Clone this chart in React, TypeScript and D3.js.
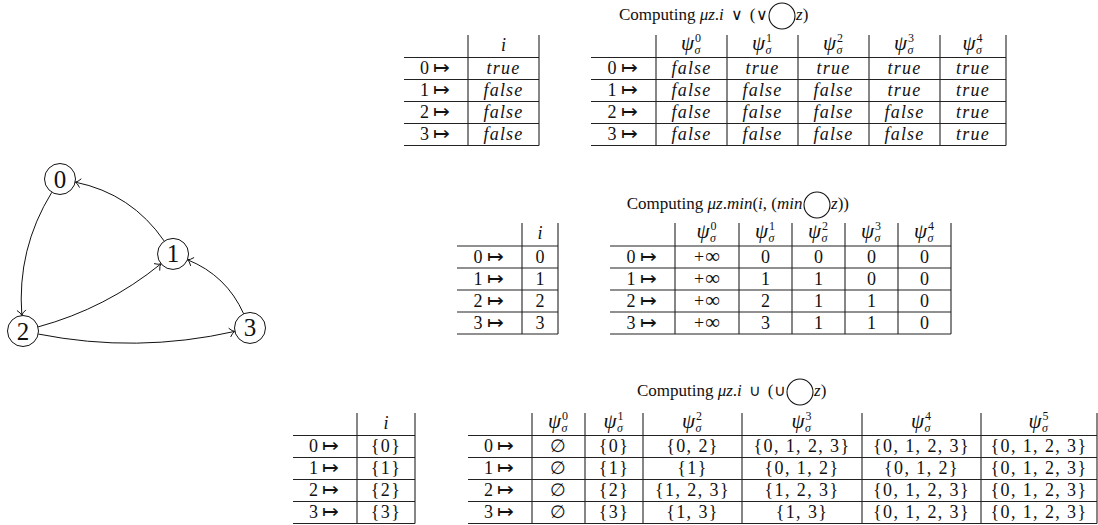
import * as d3 from 'd3';

const FONT = '"Liberation Serif", "Times New Roman", serif';
const INK = '#111';

// states of the transition system and its edges (source -> target)
const states = [0, 1, 2, 3];
const edges: [number, number][] = [[1, 0], [0, 2], [2, 1], [2, 3], [3, 1]];

// mu z. i \/ (\/ next z)
const boolInit = ['true', 'false', 'false', 'false'];
const boolSteps = [
  ['false', 'false', 'false', 'false'],
  ['true', 'false', 'false', 'false'],
  ['true', 'false', 'false', 'false'],
  ['true', 'true', 'false', 'false'],
  ['true', 'true', 'true', 'true'],
];

// mu z. min(i, (min next z))
const minInit = ['0', '1', '2', '3'];
const minSteps = [
  ['+∞', '+∞', '+∞', '+∞'],
  ['0', '1', '2', '3'],
  ['0', '1', '1', '1'],
  ['0', '0', '1', '1'],
  ['0', '0', '0', '0'],
];

// mu z. i U (U next z)
const setInit = [[0], [1], [2], [3]];
const setSteps = [
  [[], [], [], []],
  [[0], [1], [2], [3]],
  [[0, 2], [1], [1, 2, 3], [1, 3]],
  [[0, 1, 2, 3], [0, 1, 2], [1, 2, 3], [1, 3]],
  [[0, 1, 2, 3], [0, 1, 2], [0, 1, 2, 3], [0, 1, 2, 3]],
  [[0, 1, 2, 3], [0, 1, 2, 3], [0, 1, 2, 3], [0, 1, 2, 3]],
];

// title pieces: text, italic, font size, dx
type Piece = [string, boolean, number?, number?];
const titleBool: [Piece[], Piece[]] = [
  [['Computing ', false], ['μz', true], ['.', false], ['i', true], ['∨', false, 16, 7], ['(', false, 17, 7], ['∨', false, 16]],
  [['z', true], [')', false]],
];
const titleMin: [Piece[], Piece[]] = [
  [['Computing ', false], ['μz', true], ['.', false], ['min', true], ['(', false], ['i', true], [', (', false], ['min', true]],
  [['z', true], ['))', false]],
];
const titleSet: [Piece[], Piece[]] = [
  [['Computing ', false], ['μz', true], ['.', false], ['i', true], ['∪', false, 16, 7], ['(', false, 17, 7], ['∪', false, 16]],
  [['z', true], [')', false]],
];

const fmtSet = (s: number[]) => (s.length ? `{${s.join(', ')}}` : '∅');

// ---- layout ----
const nodeX = d3.scaleLinear().domain([0, 1]).range([23, 250]);
const nodeY = d3.scaleLinear().domain([0, 1]).range([179, 331]);
const nodeLayout = [[0.163, 0], [0.661, 0.493], [0, 1], [1, 0.98]];
const edgeBend = [22, 18, 12, 12, 22];
const R = 15.5;

const Graph = () => {
  const pts = nodeLayout.map(([u, v]) => [nodeX(u), nodeY(v)]);
  return (
    <g>
      {edges.map(([s, t], i) => {
        const [x1, y1] = pts[s];
        const [x2, y2] = pts[t];
        const len = Math.hypot(x2 - x1, y2 - y1);
        const ux = (x2 - x1) / len;
        const uy = (y2 - y1) / len;
        const h = (len / 2) * Math.tan((edgeBend[i] * Math.PI) / 180);
        const cx = (x1 + x2) / 2 - uy * h;
        const cy = (y1 + y2) / 2 + ux * h;
        const onCircle = (px: number, py: number) => {
          const a = Math.atan2(cy - py, cx - px);
          return [px + R * Math.cos(a), py + R * Math.sin(a)];
        };
        const a = onCircle(x1, y1);
        const b = onCircle(x2, y2);
        const p = d3.path();
        p.moveTo(a[0], a[1]);
        p.quadraticCurveTo(cx, cy, b[0], b[1]);
        const ang = Math.atan2(b[1] - cy, b[0] - cx);
        const tip = d3.path();
        [-0.7, 0.7].forEach((d) => {
          tip.moveTo(b[0] - 7 * Math.cos(ang + d), b[1] - 7 * Math.sin(ang + d));
          tip.quadraticCurveTo(
            b[0] - 2.5 * Math.cos(ang + d * 0.3),
            b[1] - 2.5 * Math.sin(ang + d * 0.3),
            b[0],
            b[1]
          );
        });
        return (
          <g key={i} fill="none" stroke={INK} strokeWidth={1}>
            <path d={p.toString()} />
            <path d={tip.toString()} />
          </g>
        );
      })}
      {pts.map(([x, y], i) => (
        <g key={i}>
          <circle cx={x} cy={y} r={R} fill="white" stroke={INK} strokeWidth={1} />
          <text x={x} y={y + 8.5} textAnchor="middle" fontSize={25} fill={INK}>
            {states[i]}
          </text>
        </g>
      ))}
    </g>
  );
};

// ψ with the step as superscript and σ as subscript, in one text
const Psi = ({ cx, base, k }: { cx: number; base: number; k: number }) => (
  <text x={cx - 10.5} y={base} fontStyle="italic" fontSize={21} fill={INK}>
    ψ
    <tspan fontSize={12} fontStyle="normal" dx={1} dy={-8}>{k}</tspan>
    <tspan fontSize={12} dx={-6.5} dy={12}>σ</tspan>
  </text>
);

// one table cell, with the symbols drawn a little larger, as in TeX
const Cell = ({ x, y, v, kind }: { x: number; y: number; v: string; kind: string }) => {
  if (kind === 'bool')
    return (
      <text x={x} y={y} textAnchor="middle" fontSize={18} fontStyle="italic" letterSpacing={1.2}>
        {v}
      </text>
    );
  if (v === '+∞')
    return (
      <text x={x} y={y} textAnchor="middle" fontSize={18}>
        +<tspan fontSize={21} dx={1}>∞</tspan>
      </text>
    );
  return (
    <text x={x} y={y} textAnchor="middle" fontSize={18} letterSpacing={kind === 'set' ? 1.4 : 0}>
      {v}
    </text>
  );
};

type TableProps = {
  xs: number[];
  headTop: number;
  lines: [number, number];
  psi: boolean;
  columns: string[][];
  kind: string;
};

const Table = ({ xs, headTop, lines, psi, columns, kind }: TableProps) => {
  const y = d3.scaleLinear().domain([0, 4]).range(lines);
  const mid = (j: number) => (xs[j] + xs[j + 1]) / 2;
  return (
    <g fill={INK}>
      {d3.range(5).map((k) => (
        <line key={'h' + k} x1={xs[0]} x2={xs[xs.length - 1]} y1={y(k)} y2={y(k)} stroke="#222" strokeWidth={1.1} />
      ))}
      {xs.slice(1).map((x, j) => (
        <line key={'v' + j} x1={x} x2={x} y1={headTop} y2={y(4)} stroke="#222" strokeWidth={1.1} />
      ))}
      {columns.map((_, j) =>
        psi ? (
          <Psi key={'p' + j} cx={mid(j + 1)} base={y(0) - 8} k={j} />
        ) : (
          <text key={'p' + j} x={mid(j + 1)} y={y(0) - 7} textAnchor="middle" fontStyle="italic" fontSize={18}>i</text>
        )
      )}
      {states.map((s, r) => (
        <text key={'l' + r} x={mid(0) - 1} y={y(r) + 16.5} textAnchor="middle" fontSize={18}>
          {s}
          <tspan fontSize={20} dx={4}>↦</tspan>
        </text>
      ))}
      {columns.map((col, j) =>
        col.map((v, r) => <Cell key={`c${j}-${r}`} x={mid(j + 1)} y={y(r) + 16.5} v={v} kind={kind} />)
      )}
    </g>
  );
};

const Title = ({ parts, cx, base }: { parts: [Piece[], Piece[]]; cx: number; base: number }) => {
  const r = 13;
  const span = (p: Piece[]) =>
    p.map(([t, it, size, dx], i) => (
      <tspan key={i} fontStyle={it ? 'italic' : 'normal'} fontSize={size ?? 17} dx={dx ?? 0}>
        {t}
      </tspan>
    ));
  return (
    <g fill={INK} fontSize={17}>
      <text x={cx - r - 1.5} y={base} textAnchor="end" xmlSpace="preserve">{span(parts[0])}</text>
      <circle cx={cx} cy={base - 4} r={r} fill="none" stroke={INK} strokeWidth={1.1} />
      <text x={cx + r + 1} y={base} xmlSpace="preserve">{span(parts[1])}</text>
    </g>
  );
};

export default function App() {
  return (
    <svg
      width={1098}
      height={525}
      fontFamily={FONT}
      style={{ position: 'absolute', left: 0, top: 0, background: 'white' }}
    >
      <Graph />

      <Title parts={titleBool} cx={782} base={20} />
      <Table xs={[404, 468, 539]} headTop={35} lines={[57.5, 145.5]} psi={false} columns={[boolInit]} kind="bool" />
      <Table xs={[591, 656, 727, 798, 869, 940, 1006]} headTop={35} lines={[57.5, 145.5]} psi columns={boolSteps} kind="bool" />

      <Title parts={titleMin} cx={817} base={209} />
      <Table xs={[457, 522, 558]} headTop={223} lines={[246, 334]} psi={false} columns={[minInit]} kind="min" />
      <Table xs={[610, 675, 739, 792, 845, 898, 951]} headTop={223} lines={[246, 334]} psi columns={minSteps} kind="min" />

      <Title parts={titleSet} cx={800} base={396} />
      <Table xs={[293, 357, 415]} headTop={413} lines={[435.5, 523.5]} psi={false} columns={[setInit.map(fmtSet)]} kind="set" />
      <Table
        xs={[468, 532, 585, 643, 742, 862, 981, 1097]}
        headTop={413}
        lines={[435.5, 523.5]}
        psi
        columns={setSteps.map((c) => c.map(fmtSet))}
        kind="set"
      />
    </svg>
  );
}
